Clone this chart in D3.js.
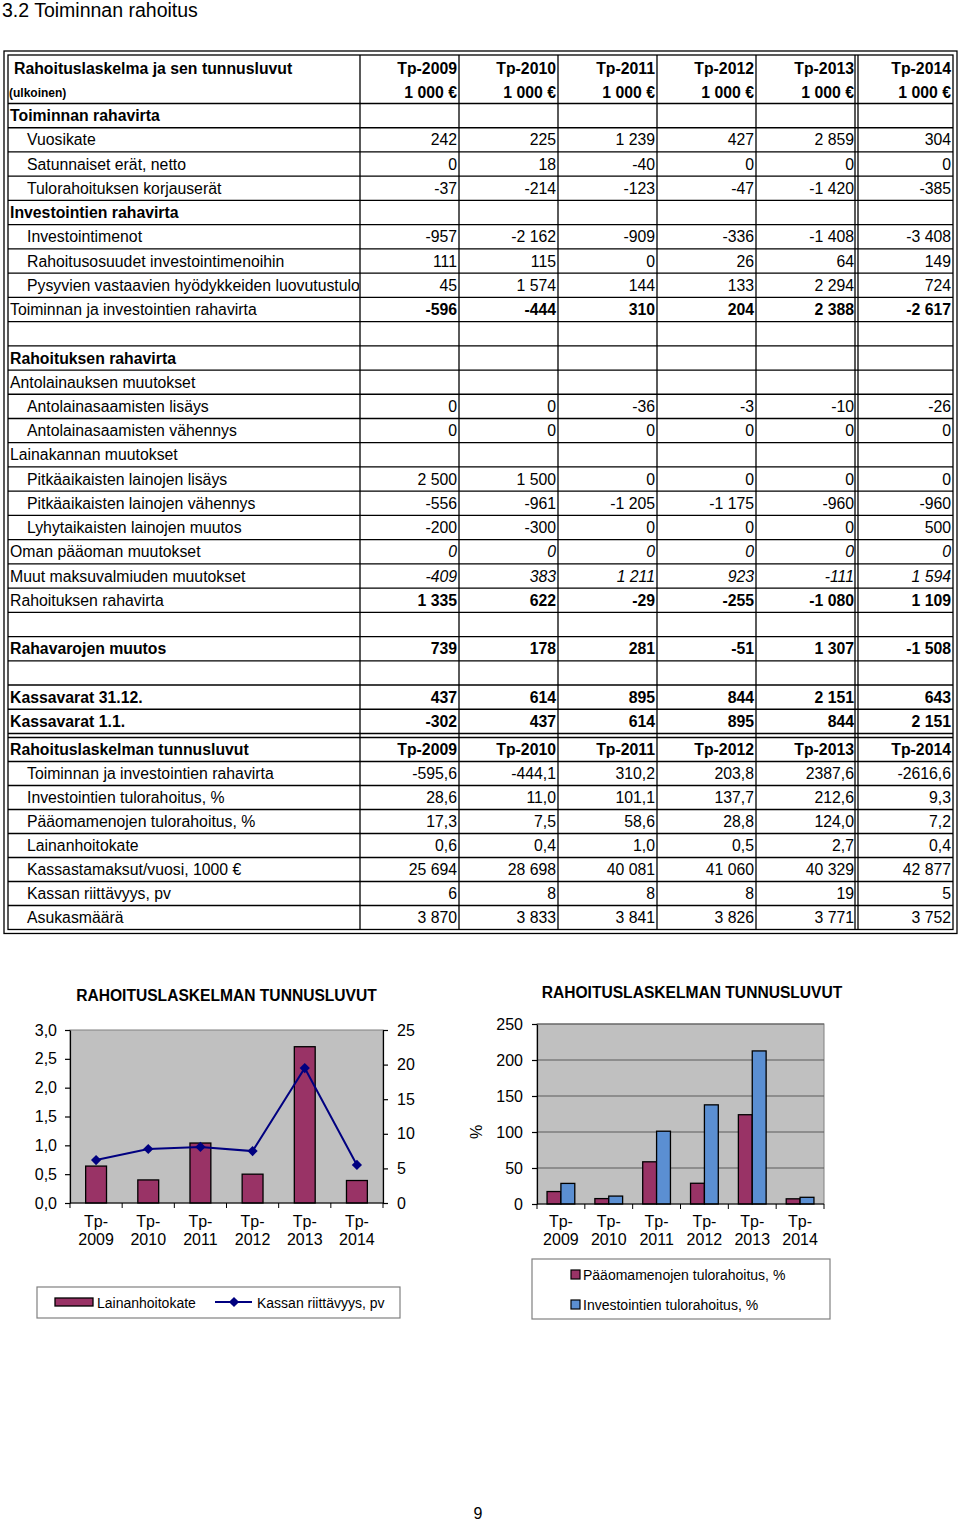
<!DOCTYPE html>
<html>
<head>
<meta charset="utf-8">
<script src="https://cdn.jsdelivr.net/npm/d3@7/dist/d3.min.js"></script>
<style>
    body { margin: 0; background: #fff; }
    svg { display: block; font-family: "Liberation Sans", Arial, Helvetica, sans-serif; }
</style>
</head>
<body>
<svg id="page" width="960" height="1521"></svg>
<script>
// ---- data ----
var years = ["Tp-2009", "Tp-2010", "Tp-2011", "Tp-2012", "Tp-2013", "Tp-2014"];

// [label, row kind, values]
var cashflowRows = [
    ["Toiminnan rahavirta", "head", null],
    ["Vuosikate", "sub", [242, 225, 1239, 427, 2859, 304]],
    ["Satunnaiset erät, netto", "sub", [0, 18, -40, 0, 0, 0]],
    ["Tulorahoituksen korjauserät", "sub", [-37, -214, -123, -47, -1420, -385]],
    ["Investointien rahavirta", "head", null],
    ["Investointimenot", "sub", [-957, -2162, -909, -336, -1408, -3408]],
    ["Rahoitusosuudet investointimenoihin", "sub", [111, 115, 0, 26, 64, 149]],
    ["Pysyvien vastaavien hyödykkeiden luovutustulot", "sub", [45, 1574, 144, 133, 2294, 724]],
    ["Toiminnan ja investointien rahavirta", "total", [-596, -444, 310, 204, 2388, -2617]],
    ["", "empty", null],
    ["Rahoituksen rahavirta", "head", null],
    ["Antolainauksen muutokset", "group", null],
    ["Antolainasaamisten lisäys", "sub", [0, 0, -36, -3, -10, -26]],
    ["Antolainasaamisten vähennys", "sub", [0, 0, 0, 0, 0, 0]],
    ["Lainakannan muutokset", "group", null],
    ["Pitkäaikaisten lainojen lisäys", "sub", [2500, 1500, 0, 0, 0, 0]],
    ["Pitkäaikaisten lainojen vähennys", "sub", [-556, -961, -1205, -1175, -960, -960]],
    ["Lyhytaikaisten lainojen muutos", "sub", [-200, -300, 0, 0, 0, 500]],
    ["Oman pääoman muutokset", "italic", [0, 0, 0, 0, 0, 0]],
    ["Muut maksuvalmiuden muutokset", "italic", [-409, 383, 1211, 923, -111, 1594]],
    ["Rahoituksen rahavirta", "total", [1335, 622, -29, -255, -1080, 1109]],
    ["", "empty", null],
    ["Rahavarojen muutos", "bold", [739, 178, 281, -51, 1307, -1508]],
    ["", "empty", null],
    ["Kassavarat 31.12.", "bold", [437, 614, 895, 844, 2151, 643]],
    ["Kassavarat 1.1.", "bold", [-302, 437, 614, 895, 844, 2151]]
];

var keyRows = [
    ["Toiminnan ja investointien rahavirta", "dec", [-595.6, -444.1, 310.2, 203.8, 2387.6, -2616.6]],
    ["Investointien tulorahoitus, %", "dec", [28.6, 11.0, 101.1, 137.7, 212.6, 9.3]],
    ["Pääomamenojen tulorahoitus, %", "dec", [17.3, 7.5, 58.6, 28.8, 124.0, 7.2]],
    ["Lainanhoitokate", "dec", [0.6, 0.4, 1.0, 0.5, 2.7, 0.4]],
    ["Kassastamaksut/vuosi, 1000 €", "int", [25694, 28698, 40081, 41060, 40329, 42877]],
    ["Kassan riittävyys, pv", "int", [6, 8, 8, 8, 19, 5]],
    ["Asukasmäärä", "int", [3870, 3833, 3841, 3826, 3771, 3752]]
];

// chart 1
var lainanhoitokate = [0.64, 0.40, 1.04, 0.50, 2.71, 0.39];
var kassanRiittavyys = [6.2, 7.8, 8.1, 7.5, 19.5, 5.5];
var leftTicks = [0, 0.5, 1, 1.5, 2, 2.5, 3];
var rightTicks = [0, 5, 10, 15, 20, 25];

// chart 2
var paaomamenojenTulorahoitus = [17.3, 7.5, 58.6, 28.8, 124.0, 7.2];
var investointienTulorahoitus = [28.6, 11.0, 101.1, 137.7, 212.6, 9.3];
var pctTicks = [0, 50, 100, 150, 200, 250];

var chartTitle = "RAHOITUSLASKELMAN TUNNUSLUVUT";

// ---- helpers ----
var fi = d3.formatLocale({ decimal: ",", thousands: " ", grouping: [3], currency: ["", " €"], minus: "-" });
var fmtInt = fi.format(",d"),
    fmtDec = fi.format(".1f");

var MAROON = "#993366",
    BLUE = "#5b8fd2",
    NAVY = "#000080",
    PLOT_BG = "#c0c0c0",
    TABLE_FS = 15.8;

var svg = d3.select("#page");

svg.append("text")
    .attr("x", 2).attr("y", 17)
    .style("font-size", "19.5px")
    .text("3.2 Toiminnan rahoitus");

// ---- table ----
( function() {
    var colX = [8, 360, 459, 558, 657, 756, 858, 953];
    var top = 55, headBottom = 103.5, rowH1 = 24.23, rowH2 = 24;
    var sec1Bottom = headBottom + cashflowRows.length * rowH1;
    var sec2Top = sec1Bottom + 4;
    var bottom = sec2Top + (keyRows.length + 1) * rowH2;

    var g = svg.append("g").attr("class", "table");

    g.append("defs").append("clipPath").attr("id", "labelClip")
        .append("rect").attr("x", colX[0]).attr("y", 0).attr("width", colX[1] - colX[0] - 1).attr("height", 1521);

    // outer double frame
    g.append("rect").attr("x", 4).attr("y", 51).attr("width", 953).attr("height", bottom + 4 - 51)
        .attr("fill", "none").attr("stroke", "#000").attr("stroke-width", 1.3);
    g.append("rect").attr("x", colX[0]).attr("y", top).attr("width", colX[7] - colX[0]).attr("height", bottom - top)
        .attr("fill", "none").attr("stroke", "#000").attr("stroke-width", 1.3);

    // vertical lines
    var vx = colX.slice(1, 7).concat([855]);
    g.selectAll("line.v").data(vx).enter().append("line")
        .attr("x1", function(d) { return d; }).attr("x2", function(d) { return d; })
        .attr("y1", top).attr("y2", bottom)
        .attr("stroke", "#000").attr("stroke-width", 1.3);

    // horizontal lines
    var hy = [headBottom];
    cashflowRows.forEach(function(r, i) { hy.push(headBottom + (i + 1) * rowH1); });
    hy.push(sec2Top);
    keyRows.forEach(function(r, i) { hy.push(sec2Top + (i + 1) * rowH2); });
    g.selectAll("line.h").data(hy).enter().append("line")
        .attr("x1", colX[0]).attr("x2", colX[7])
        .attr("y1", function(d) { return d; }).attr("y2", function(d) { return d; })
        .attr("stroke", "#000").attr("stroke-width", 1.3);

    function cellText(x, y, txt, opts) {
        var t = g.append("text")
            .attr("x", x).attr("y", y)
            .style("font-size", (opts.size || TABLE_FS) + "px")
            .style("font-weight", opts.bold ? "bold" : "normal")
            .style("font-style", opts.italic ? "italic" : "normal")
            .attr("text-anchor", opts.right ? "end" : "start")
            .text(txt);
        if (opts.clip) t.attr("clip-path", "url(#labelClip)");
        return t;
    }

    function valueRight(j) {
        return colX[j + 2] - (j === 4 ? 4 : 2);
    }

    // header
    cellText(14, 73.5, "Rahoituslaskelma ja sen tunnusluvut", { bold: true });
    cellText(9, 97, "(ulkoinen)", { bold: true, size: 12 });
    years.forEach(function(y, j) {
        cellText(valueRight(j), 73.5, y, { bold: true, right: true });
        cellText(valueRight(j), 97.5, "1 000 €", { bold: true, right: true });
    });

    // section 1
    cashflowRows.forEach(function(r, i) {
        var base = headBottom + i * rowH1 + 17.7;
        var kind = r[1];
        if (kind === "empty") return;
        cellText(kind === "sub" ? 27 : 10, base, r[0], {
            bold: kind === "head" || kind === "bold",
            clip: true
        });
        if (!r[2]) return;
        r[2].forEach(function(v, j) {
            cellText(valueRight(j), base, fmtInt(v), {
                right: true,
                bold: kind === "total" || kind === "bold",
                italic: kind === "italic"
            });
        });
    });

    // section 2
    var base0 = sec2Top + 17.5;
    cellText(10, base0, "Rahoituslaskelman tunnusluvut", { bold: true, clip: true });
    years.forEach(function(y, j) {
        cellText(valueRight(j), base0, y, { bold: true, right: true });
    });
    keyRows.forEach(function(r, i) {
        var base = sec2Top + (i + 1) * rowH2 + 17.5;
        cellText(27, base, r[0], { clip: true });
        var f = r[1] === "dec" ? fmtDec : fmtInt;
        r[2].forEach(function(v, j) {
            cellText(valueRight(j), base, f(v), { right: true });
        });
    });
})();

// ---- shared chart bits ----
function categoryLabels(g, x, yBase) {
    var lab = g.selectAll("text.cat").data(years).enter().append("text")
        .attr("class", "cat")
        .attr("text-anchor", "middle")
        .style("font-size", "16px")
        .attr("transform", function(d) { return "translate(" + (x(d) + x.bandwidth() / 2) + "," + yBase + ")"; });
    lab.append("tspan").attr("x", 0).attr("y", 0).text(function(d) { return d.split("-")[0] + "-"; });
    lab.append("tspan").attr("x", 0).attr("y", 18).text(function(d) { return d.split("-")[1]; });
}

function categoryTicks(g, x, y0) {
    var edges = years.map(function(d) { return x(d); }).concat([x.range()[1]]);
    g.append("line").attr("x1", x.range()[0]).attr("x2", x.range()[1]).attr("y1", y0).attr("y2", y0)
        .attr("stroke", "#000").attr("stroke-width", 1.2);
    g.selectAll("line.ct").data(edges).enter().append("line")
        .attr("x1", function(d) { return d; }).attr("x2", function(d) { return d; })
        .attr("y1", y0).attr("y2", y0 + 5)
        .attr("stroke", "#000").attr("stroke-width", 1);
}

function styleAxis(sel) {
    sel.selectAll("text").style("font-size", "16px").attr("fill", "#000").style("font-family", "inherit");
    sel.selectAll("path,line").attr("stroke", "#000").attr("stroke-width", 1.2);
}

// ---- chart 1: Lainanhoitokate + Kassan riittävyys ----
( function() {
    var g = svg.append("g").attr("class", "chart1");
    var x = d3.scaleBand().domain(years).range([70, 383]);
    var yL = d3.scaleLinear().domain([0, 3]).range([1203, 1030]);
    var yR = d3.scaleLinear().domain([0, 25]).range([1203, 1030]);

    g.append("text").attr("x", 226.5).attr("y", 1001).attr("text-anchor", "middle")
        .style("font-size", "15.6px").style("font-weight", "bold").text(chartTitle);

    g.append("rect").attr("x", x.range()[0]).attr("y", yL.range()[1])
        .attr("width", x.range()[1] - x.range()[0]).attr("height", yL.range()[0] - yL.range()[1])
        .attr("fill", PLOT_BG).attr("stroke", "#808080").attr("stroke-width", 1);

    g.selectAll("rect.bar").data(lainanhoitokate).enter().append("rect")
        .attr("class", "bar")
        .attr("x", function(d, i) { return x(years[i]) + x.bandwidth() * 0.3; })
        .attr("width", x.bandwidth() * 0.4)
        .attr("y", function(d) { return yL(d); })
        .attr("height", function(d) { return yL(0) - yL(d); })
        .attr("fill", MAROON).attr("stroke", "#000").attr("stroke-width", 1.3);

    var line = d3.line()
        .x(function(d, i) { return x(years[i]) + x.bandwidth() / 2; })
        .y(function(d) { return yR(d); });
    g.append("path").datum(kassanRiittavyys).attr("d", line)
        .attr("fill", "none").attr("stroke", NAVY).attr("stroke-width", 2);
    g.selectAll("path.mk").data(kassanRiittavyys).enter().append("path")
        .attr("class", "mk")
        .attr("d", d3.symbol(d3.symbolSquare, 52))
        .attr("transform", function(d, i) {
            return "translate(" + (x(years[i]) + x.bandwidth() / 2) + "," + yR(d) + ") rotate(45)";
        })
        .attr("fill", NAVY);

    var axL = g.append("g").attr("transform", "translate(" + x.range()[0] + ",0)")
        .call(d3.axisLeft(yL).tickValues(leftTicks).tickFormat(fmtDec).tickSize(5).tickSizeOuter(0).tickPadding(8));
    styleAxis(axL);
    var axR = g.append("g").attr("transform", "translate(" + x.range()[1] + ",0)")
        .call(d3.axisRight(yR).tickValues(rightTicks).tickFormat(fmtInt).tickSize(5).tickSizeOuter(0).tickPadding(9));
    styleAxis(axR);

    categoryTicks(g, x, yL(0));
    categoryLabels(g, x, 1227);

    // legend
    var lg = g.append("g");
    lg.append("rect").attr("x", 37).attr("y", 1287).attr("width", 363).attr("height", 31)
        .attr("fill", "#fff").attr("stroke", "#808080").attr("stroke-width", 1.2);
    lg.append("rect").attr("x", 55).attr("y", 1298).attr("width", 38).attr("height", 8)
        .attr("fill", MAROON).attr("stroke", "#000").attr("stroke-width", 1.3);
    lg.append("text").attr("x", 97).attr("y", 1307.5).style("font-size", "14px").text("Lainanhoitokate");
    lg.append("line").attr("x1", 215).attr("x2", 252).attr("y1", 1302).attr("y2", 1302)
        .attr("stroke", NAVY).attr("stroke-width", 2);
    lg.append("path").attr("d", d3.symbol(d3.symbolSquare, 52))
        .attr("transform", "translate(234,1302) rotate(45)").attr("fill", NAVY);
    lg.append("text").attr("x", 257).attr("y", 1307.5).style("font-size", "14px").text("Kassan riittävyys, pv");
})();

// ---- chart 2: tulorahoitus % ----
( function() {
    var g = svg.append("g").attr("class", "chart2");
    var x = d3.scaleBand().domain(years).range([537, 824]);
    var y = d3.scaleLinear().domain([0, 250]).range([1204, 1024]);
    var bw = x.bandwidth() * 0.29;

    g.append("text").attr("x", 692).attr("y", 998).attr("text-anchor", "middle")
        .style("font-size", "15.6px").style("font-weight", "bold").text(chartTitle);

    g.append("rect").attr("x", x.range()[0]).attr("y", y.range()[1])
        .attr("width", x.range()[1] - x.range()[0]).attr("height", y.range()[0] - y.range()[1])
        .attr("fill", PLOT_BG).attr("stroke", "#808080").attr("stroke-width", 1);

    g.selectAll("line.grid").data(pctTicks.slice(1)).enter().append("line")
        .attr("x1", x.range()[0]).attr("x2", x.range()[1])
        .attr("y1", function(d) { return y(d); }).attr("y2", function(d) { return y(d); })
        .attr("stroke", "#5a5a5a").attr("stroke-width", 1);

    var series = [[paaomamenojenTulorahoitus, MAROON, -1], [investointienTulorahoitus, BLUE, 0]];
    series.forEach(function(s) {
        g.selectAll(null).data(s[0]).enter().append("rect")
            .attr("x", function(d, i) { return x(years[i]) + x.bandwidth() / 2 + s[2] * bw; })
            .attr("width", bw)
            .attr("y", function(d) { return y(d); })
            .attr("height", function(d) { return y(0) - y(d); })
            .attr("fill", s[1]).attr("stroke", "#000").attr("stroke-width", 1.3);
    });

    var ax = g.append("g").attr("transform", "translate(" + x.range()[0] + ",0)")
        .call(d3.axisLeft(y).tickValues(pctTicks).tickFormat(fmtInt).tickSize(5).tickSizeOuter(0).tickPadding(9));
    styleAxis(ax);

    categoryTicks(g, x, y(0));
    categoryLabels(g, x, 1227);

    g.append("text").attr("transform", "translate(482,1132) rotate(-90)")
        .attr("text-anchor", "middle").style("font-size", "16px").text("%");

    // legend
    var lg = g.append("g");
    lg.append("rect").attr("x", 532).attr("y", 1259).attr("width", 298).attr("height", 60)
        .attr("fill", "#fff").attr("stroke", "#808080").attr("stroke-width", 1.2);
    var items = [["Pääomamenojen tulorahoitus, %", MAROON], ["Investointien tulorahoitus, %", BLUE]];
    items.forEach(function(it, i) {
        lg.append("rect").attr("x", 571).attr("y", 1270 + i * 30).attr("width", 9).attr("height", 9)
            .attr("fill", it[1]).attr("stroke", "#000").attr("stroke-width", 1.2);
        lg.append("text").attr("x", 583).attr("y", 1280 + i * 30).style("font-size", "14px").text(it[0]);
    });
})();

svg.append("text").attr("x", 478).attr("y", 1519).attr("text-anchor", "middle")
    .style("font-size", "16px").text("9");
</script>
</body>
</html>
